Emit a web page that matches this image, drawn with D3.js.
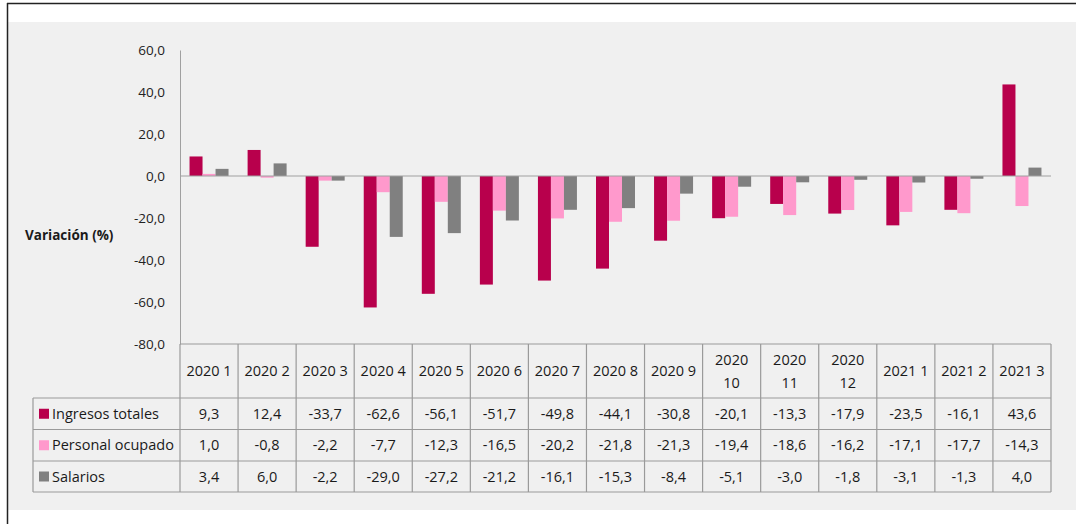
<!DOCTYPE html>
<html>
<head>
<meta charset="utf-8">
<script src="https://cdn.jsdelivr.net/npm/d3@7"></script>
<style>
  body { margin: 0; background: #fff; }
  svg { display: block; font-family: "Open Sans", "Noto Sans", sans-serif; }
</style>
</head>
<body>
<script>
var categories = ["2020 1", "2020 2", "2020 3", "2020 4", "2020 5", "2020 6", "2020 7",
                  "2020 8", "2020 9", "2020 10", "2020 11", "2020 12", "2021 1", "2021 2", "2021 3"];
var seriesNames = ["Ingresos totales", "Personal ocupado", "Salarios"];
var ingresos = [9.3, 12.4, -33.7, -62.6, -56.1, -51.7, -49.8, -44.1, -30.8, -20.1, -13.3, -17.9, -23.5, -16.1, 43.6];
var personal = [1.0, -0.8, -2.2, -7.7, -12.3, -16.5, -20.2, -21.8, -21.3, -19.4, -18.6, -16.2, -17.1, -17.7, -14.3];
var salarios = [3.4, 6.0, -2.2, -29.0, -27.2, -21.2, -16.1, -15.3, -8.4, -5.1, -3.0, -1.8, -3.1, -1.3, 4.0];
var yTicks = [60, 40, 20, 0, -20, -40, -60, -80];

var seriesValues = [ingresos, personal, salarios];
var colors = ["#b8004c", "#ff99cc", "#808080"];

var W = 1076, H = 524;
var svg = d3.select("body").append("svg").attr("width", W).attr("height", H);

// background frame
svg.append("rect").attr("x", 8).attr("y", 22).attr("width", W - 8).attr("height", 488).attr("fill", "#f0f0f0");
svg.append("line").attr("x1", 7.5).attr("x2", 7.5).attr("y1", 3).attr("y2", H).attr("stroke", "#222").attr("stroke-width", 1.5);
svg.append("line").attr("x1", 7).attr("x2", W).attr("y1", 3.5).attr("y2", 3.5).attr("stroke", "#222").attr("stroke-width", 1.5);

var x0 = d3.scaleBand().domain(categories).range([180, 1051]).padding(0);
var x1 = d3.scaleBand().domain(seriesNames).range([0, 39]);
var y = d3.scaleLinear().domain([-80, 60]).range([344, 50]);

var lineColor = "#a0a0a0";
var fmt = function (d) { return d3.format(".1f")(d).replace(".", ",").replace("−", "-"); };

// y axis
var yAxis = d3.axisLeft(y).tickValues(yTicks).tickSize(0).tickPadding(15).tickFormat(fmt);
var gy = svg.append("g").attr("transform", "translate(180,0)").call(yAxis);
gy.select(".domain").attr("stroke", lineColor);
gy.selectAll("text").attr("font-size", 13.5).attr("fill", "#222").attr("font-family", "Open Sans, sans-serif");

svg.append("text").attr("x", 25).attr("y", 240).attr("font-size", 13.5).attr("font-weight", "bold")
  .attr("fill", "#1a1a1a").text("Variación (%)");

// bars
var groupOff = (x0.bandwidth() - 39) / 2;
seriesValues.forEach(function (vals, s) {
  svg.append("g").selectAll("rect")
    .data(vals)
    .enter()
    .append("rect")
    .attr("x", function (d, i) { return x0(categories[i]) + groupOff + x1(seriesNames[s]); })
    .attr("y", function (d) { return y(Math.max(0, d)); })
    .attr("width", x1.bandwidth())
    .attr("height", function (d) { return Math.abs(y(d) - y(0)); })
    .attr("fill", colors[s]);
});

// zero line
svg.append("line").attr("x1", 180).attr("x2", 1051).attr("y1", y(0)).attr("y2", y(0))
  .attr("stroke", lineColor).attr("stroke-width", 1.2);

// data table
var headTop = 344;
var rowH = [398, 429.5, 461, 492];
var tableLeft = 33, colLeft = 180, colRight = 1051;

var tbl = svg.append("g").attr("stroke", "#9a9a9a").attr("stroke-width", 1.2);
tbl.append("line").attr("x1", colLeft).attr("x2", colRight).attr("y1", headTop).attr("y2", headTop);
rowH.forEach(function (yy) {
  tbl.append("line").attr("x1", tableLeft).attr("x2", colRight).attr("y1", yy).attr("y2", yy);
});
categories.forEach(function (c) {
  tbl.append("line").attr("x1", x0(c)).attr("x2", x0(c)).attr("y1", headTop).attr("y2", rowH[3]);
});
tbl.append("line").attr("x1", colRight).attr("x2", colRight).attr("y1", headTop).attr("y2", rowH[3]);
tbl.append("line").attr("x1", tableLeft).attr("x2", tableLeft).attr("y1", rowH[0]).attr("y2", rowH[3]);

// header labels
categories.forEach(function (c) {
  var cx = x0(c) + x0.bandwidth() / 2;
  var parts = c.split(" ");
  var t = svg.append("text").attr("text-anchor", "middle").attr("font-size", 14.5).attr("fill", "#1a1a1a");
  if (parts[1].length > 1) {
    t.append("tspan").attr("x", cx).attr("y", 365).text(parts[0]);
    t.append("tspan").attr("x", cx).attr("y", 388).text(parts[1]);
  } else {
    t.attr("x", cx).attr("y", 376).text(c);
  }
});

// legend and values
seriesNames.forEach(function (name, s) {
  var ty = (rowH[s] + rowH[s + 1]) / 2 + 5;
  svg.append("rect").attr("x", 39).attr("y", ty - 10).attr("width", 10).attr("height", 10).attr("fill", colors[s]);
  svg.append("text").attr("x", 52).attr("y", ty).attr("font-size", 14.5).attr("fill", "#1a1a1a").text(name);
  svg.append("g").selectAll("text")
    .data(seriesValues[s])
    .enter()
    .append("text")
    .attr("x", function (d, i) { return x0(categories[i]) + x0.bandwidth() / 2; })
    .attr("y", ty)
    .attr("text-anchor", "middle")
    .attr("font-size", 14.5)
    .attr("fill", "#1a1a1a")
    .text(fmt);
});
</script>
</body>
</html>
